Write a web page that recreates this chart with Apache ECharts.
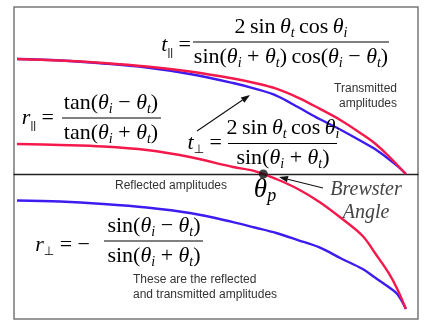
<!DOCTYPE html>
<html><head><meta charset="utf-8">
<script src="https://cdn.jsdelivr.net/npm/echarts@6/dist/echarts.min.js"></script>
<style>html,body{margin:0;padding:0;background:#fff}#c{width:432px;height:332px}</style>
</head><body><div id="c"></div>
<script>
// Angle of incidence (degrees) and amplitude values
const theta      = [0, 10, 20, 30, 40, 50, 55, 60, 65, 70, 75, 80, 83, 86, 88, 90];
const tParallel  = [0.852, 0.841, 0.822, 0.796, 0.759, 0.707, 0.674, 0.632, 0.566, 0.484, 0.397, 0.292, 0.222, 0.133, 0.067, 0];
const tPerp      = [0.852, 0.841, 0.819, 0.789, 0.741, 0.674, 0.633, 0.581, 0.496, 0.407, 0.326, 0.237, 0.181, 0.111, 0.060, 0];
const rParallel  = [0.222, 0.215, 0.204, 0.178, 0.126, 0.052, 0.022, -0.037, -0.111, -0.207, -0.326, -0.459, -0.593, -0.733, -0.852, -1.0];
const rPerp      = [-0.196, -0.204, -0.222, -0.248, -0.289, -0.356, -0.396, -0.437, -0.489, -0.544, -0.626, -0.704, -0.770, -0.837, -0.889, -1.0];
const brewsterAngle = 57;

const RED = '#f5194b', BLUE = '#3e1cf0';
const SERIF = '"Liberation Serif","Times New Roman",serif';
const SANS = '"Liberation Sans",Arial,Helvetica,sans-serif';

const rich = {
  n:  {fontFamily: SERIF, fontSize: 22, lineHeight: 26, color: '#000'},
  i:  {fontFamily: SERIF, fontSize: 22, fontStyle: 'italic', lineHeight: 26, color: '#000'},
  s:  {fontFamily: SERIF, fontSize: 14, fontStyle: 'italic', lineHeight: 14, verticalAlign: 'bottom', color: '#000'},
  sb: {fontFamily: SANS, fontSize: 11, lineHeight: 12, verticalAlign: 'bottom', color: '#000'},
  sp: {fontFamily: '"DejaVu Sans",sans-serif', fontSize: 12, lineHeight: 13, verticalAlign: 'bottom', color: '#000'},
  tp: {fontFamily: SERIF, fontSize: 27, fontStyle: 'italic', lineHeight: 30, color: '#000'},
  pp: {fontFamily: SERIF, fontSize: 18, fontStyle: 'italic', lineHeight: 16, verticalAlign: 'bottom', color: '#000'}
};

function rt(x, y, text, align) {
  return {type: 'text', z: 50, x: x, y: y,
    style: {text: text, rich: rich, align: align || 'center', verticalAlign: 'middle', fill: '#000'}};
}
function plain(x, y, text, opts) {
  return {type: 'text', z: 50, x: x, y: y,
    style: Object.assign({text: text, align: 'center', verticalAlign: 'middle', fill: '#333',
      fontFamily: SANS, fontSize: 12, lineHeight: 15}, opts || {})};
}
function bar(x1, x2, y) {
  return {type: 'line', z: 50, shape: {x1: x1, y1: y, x2: x2, y2: y}, style: {stroke: '#000', lineWidth: 1}};
}
function frac(cx, x1, x2, y, num, den) {
  return [rt(cx, y - 15, num), bar(x1, x2, y), rt(cx, y + 15, den)];
}
function arrow(x1, y1, x2, y2) {
  const dx = x2 - x1, dy = y2 - y1, L = Math.hypot(dx, dy), ux = dx / L, uy = dy / L;
  const hl = 9, hw = 3.2;
  const bx = x2 - ux * hl, by = y2 - uy * hl;
  return [
    {type: 'line', z: 60, shape: {x1: x1, y1: y1, x2: bx, y2: by}, style: {stroke: '#111', lineWidth: 1.1}},
    {type: 'polygon', z: 60, shape: {points: [[x2, y2], [bx - uy * hw, by + ux * hw], [bx + uy * hw, by - ux * hw]]}, style: {fill: '#111'}}
  ];
}

const numT = '{n|2\u2009sin\u2009}{i|θ}{s|t}{n|\u2009cos\u2009}{i|θ}{s|i}';
const denT = '{n|sin(}{i|θ}{s|i}{n| + }{i|θ}{s|t}{n|)\u2009cos(}{i|θ}{s|i}{n| − }{i|θ}{s|t}{n|)}';
const tanMinus = '{n|tan(}{i|θ}{s|i}{n| − }{i|θ}{s|t}{n|)}';
const tanPlus  = '{n|tan(}{i|θ}{s|i}{n| + }{i|θ}{s|t}{n|)}';
const sinMinus = '{n|sin(}{i|θ}{s|i}{n| − }{i|θ}{s|t}{n|)}';
const sinPlus  = '{n|sin(}{i|θ}{s|i}{n| + }{i|θ}{s|t}{n|)}';

const graphics = [].concat(
  [rt(191, 45, '{i|t}{sb|||}{n| =}', 'right')],
  frac(291, 193, 389, 42, numT, denT),
  [rt(54, 118, '{i|r}{sb|||}{n| =}', 'right')],
  frac(111, 62, 161, 118, tanMinus, tanPlus),
  [rt(222, 143, '{i|t}{sp|⊥}{n| =}', 'right')],
  frac(283, 228, 337, 143.5, numT, sinPlus),
  [rt(90, 245, '{i|r}{sp|⊥}{n| = −}', 'right')],
  frac(154, 104, 203, 241, sinMinus, sinPlus),
  [rt(265, 190, '{tp|θ}{pp|p}')],
  arrow(197, 131, 250, 95),
  arrow(323, 188, 279, 177),
  [
    plain(397, 96, 'Transmitted\namplitudes', {align: 'right'}),
    plain(171, 186, 'Reflected amplitudes'),
    plain(133, 287, 'These are the reflected\nand transmitted amplitudes', {align: 'left'}),
    {type: 'text', z: 50, x: 366, y: 201, style: {text: 'Brewster\nAngle', align: 'center', verticalAlign: 'middle',
      fill: '#444', fontFamily: SERIF, fontStyle: 'italic', fontSize: 20, lineHeight: 23}}
  ]
);

const pairs = ys => theta.map((t, k) => [t, ys[k]]);
const lineSeries = (ys, color, z) => ({type: 'line', data: pairs(ys), smooth: 0.35, showSymbol: false, z: z,
  lineStyle: {color: color, width: 2.4}, itemStyle: {color: color}, silent: true});

const chart = echarts.init(document.getElementById('c'));
chart.setOption({
  animation: false,
  grid: {left: 14, right: 14, top: 7, bottom: 13, show: true, borderColor: '#777', borderWidth: 1.5, backgroundColor: '#fff'},
  xAxis: {type: 'value', min: -0.7, max: 92.8,
    axisLine: {show: true, onZero: true, lineStyle: {color: '#222', width: 1.3}},
    axisTick: {show: false}, axisLabel: {show: false}, splitLine: {show: false}},
  yAxis: {type: 'value', min: -1.074, max: 1.237,
    axisLine: {show: false}, axisTick: {show: false}, axisLabel: {show: false}, splitLine: {show: false}},
  series: [
    lineSeries(tPerp, BLUE, 2),
    lineSeries(rPerp, BLUE, 2),
    lineSeries(tParallel, RED, 3),
    lineSeries(rParallel, RED, 3),
    {type: 'scatter', data: [[brewsterAngle, 0]], symbolSize: 9, itemStyle: {color: '#111'}, z: 10, silent: true}
  ],
  graphic: graphics
});
</script>
</body></html>
